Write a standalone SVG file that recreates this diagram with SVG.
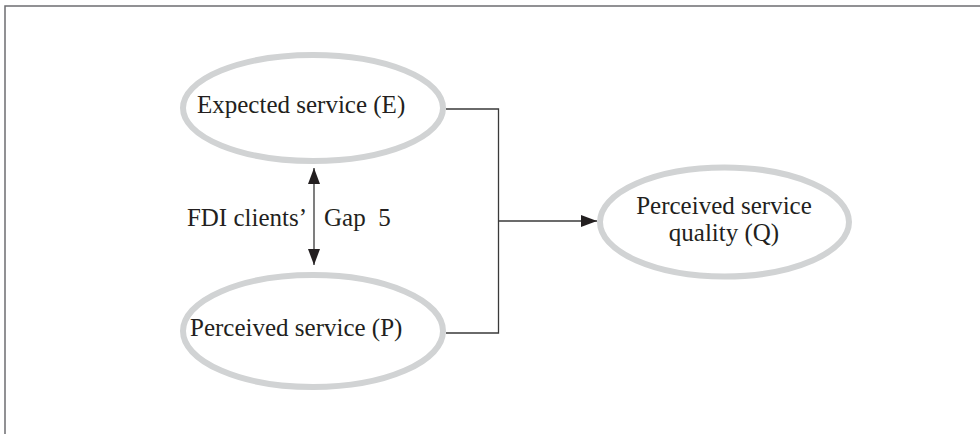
<svg xmlns="http://www.w3.org/2000/svg" width="980" height="434" viewBox="0 0 980 434">
  <style>
    .node ellipse { fill: none; stroke: #d1d3d4; stroke-width: 6; }
    .label { font-family: "Liberation Serif", "Times New Roman", serif; font-size: 25px; fill: #231f20; }
    .wire { fill: none; stroke: #3a3a3a; stroke-width: 1.3; }
  </style>
  <defs>
    <marker id="tip" viewBox="0 0 16 12" refX="16" refY="6" markerWidth="16" markerHeight="12" markerUnits="userSpaceOnUse" orient="auto-start-reverse">
      <path d="M0,0 L16,6 L0,12 Z" fill="#231f20"/>
    </marker>
  </defs>
  <rect width="980" height="434" fill="#ffffff"/>
  <!-- frame: top and left edges -->
  <path d="M5,434 L5,6 L980,6" fill="none" stroke="#6d6e71" stroke-width="1.5"/>

  <g id="expected-service" class="node">
    <ellipse cx="313" cy="108" rx="130" ry="53"/>
    <text class="label" x="197" y="113">Expected service (E)</text>
  </g>

  <g id="perceived-service" class="node">
    <ellipse cx="313" cy="331" rx="130" ry="56"/>
    <text class="label" x="190" y="336">Perceived service (P)</text>
  </g>

  <g id="perceived-quality" class="node">
    <ellipse cx="724.5" cy="222" rx="124.5" ry="54.5"/>
    <text class="label" x="724" y="214" text-anchor="middle">Perceived service</text>
    <text class="label" x="724" y="241" text-anchor="middle">quality (Q)</text>
  </g>

  <g id="connectors">
    <path class="wire" d="M446,109 L498.5,109 L498.5,333 L446,333"/>
    <path class="wire" d="M498.5,221 L597,221" marker-end="url(#tip)"/>
    <path class="wire" d="M314,168 L314,265" marker-start="url(#tip)" marker-end="url(#tip)"/>
    <!-- gap label, split either side of the double arrow -->
    <text class="label" x="307" y="226" text-anchor="end">FDI clients’</text>
    <text class="label" x="324" y="226" xml:space="preserve">Gap  5</text>
  </g>
</svg>
